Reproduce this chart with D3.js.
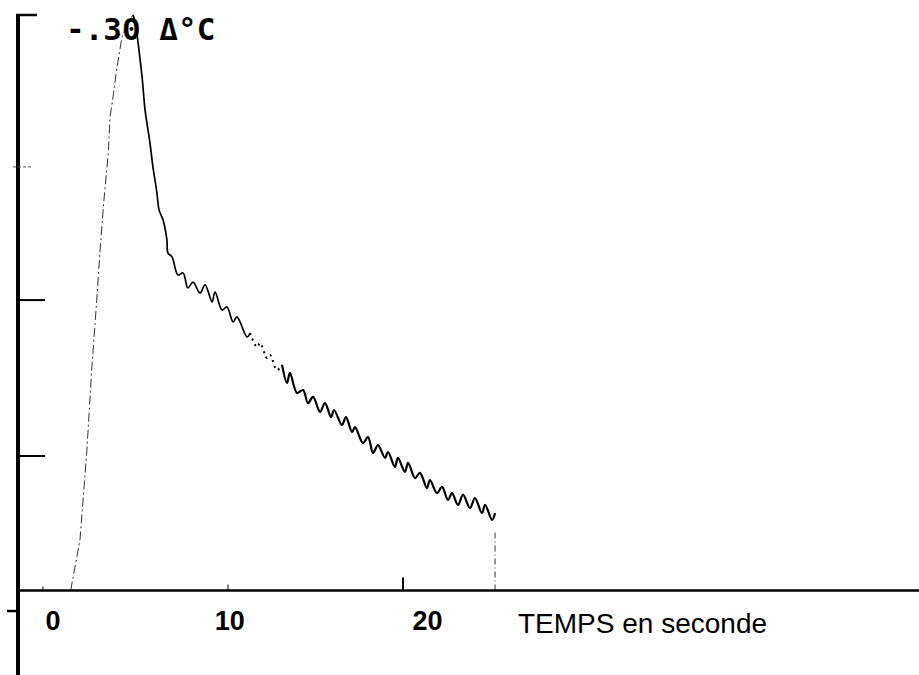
<!DOCTYPE html>
<html>
<head>
<meta charset="utf-8">
<script src="https://cdn.jsdelivr.net/npm/d3@7"></script>
<style>
  body { margin: 0; background: #fff; }
  svg { display: block; }
</style>
</head>
<body>
<svg id="chart" width="919" height="675"></svg>
<script>
// readings: time (s), temperature drop (deg C)
var riseT = [1.01, 1.54, 1.93, 2.21, 2.50, 2.69, 2.91, 3.16, 3.26, 3.43, 3.66, 3.94, 4.29, 4.57];
var riseV = [0, 0.0263, 0.0722, 0.1149, 0.1514, 0.1775, 0.2036, 0.2281, 0.2468, 0.2573, 0.2729, 0.2885, 0.2964, 0.3000];

var decayT = [4.57, 4.74, 4.83, 5.09, 5.26, 5.54, 5.71, 5.94, 6.06, 6.29, 6.51, 6.57, 6.80, 7.14, 7.43, 7.71, 8.00,
    8.40, 8.69, 9.09, 9.26, 9.66, 9.94, 10.29, 10.51, 11.09, 11.26];
var decayV = [0.3000, 0.2948, 0.2880, 0.2677, 0.2505, 0.2333, 0.2208, 0.2072, 0.1984, 0.1931, 0.1827, 0.1759, 0.1739,
    0.1645, 0.1655, 0.1577, 0.1608, 0.1551, 0.1593, 0.1504, 0.1556, 0.1462, 0.1478, 0.1400, 0.1426, 0.1322, 0.1342];

// faint stretch of the trace
var gapT = [11.26, 11.66, 11.83, 12.23, 12.40, 12.80, 13.09];
var gapV = [0.1342, 0.1269, 0.1290, 0.1212, 0.1228, 0.1149, 0.1176];

var tailT = [13.09, 13.37, 13.54, 13.94, 14.29, 14.57, 14.86, 15.26, 15.54, 15.89, 16.06, 16.51, 16.74, 17.09, 17.26,
    17.71, 18.00, 18.29, 18.57, 18.97, 19.14, 19.54, 19.71, 20.11, 20.29, 20.69, 20.97, 21.37, 21.54, 21.94, 22.23,
    22.57, 22.80, 23.14, 23.43, 23.83, 24.11, 24.51, 24.69, 25.09, 25.26];
var tailV = [0.1176, 0.1082, 0.1134, 0.1030, 0.1045, 0.0977, 0.1009, 0.0931, 0.0977, 0.0904, 0.0941, 0.0863, 0.0904,
    0.0826, 0.0852, 0.0769, 0.0800, 0.0717, 0.0758, 0.0691, 0.0722, 0.0644, 0.0691, 0.0618, 0.0665, 0.0586, 0.0613,
    0.0534, 0.0576, 0.0508, 0.0540, 0.0472, 0.0508, 0.0446, 0.0498, 0.0430, 0.0482, 0.0404, 0.0446, 0.0368, 0.0404];

var endT = 25.26, endV = 0.0305;

var xTicks = [-0.57, 10, 20];
var xLabels = ["0", "10", "20"];
var xLabelAt = [0, 10.1, 21.4];
var yTicks = [0.0701, 0.1514];
var yFaintTick = 0.2208;
var yLowTick = -0.0107;
var yTop = 0.30;
var topLabel = "-.30 \u0394\u00b0C";
var xTitle = "TEMPS en seconde";

var svg = d3.select("#chart"),
    width = +svg.attr("width"),
    height = +svg.attr("height");

var x = d3.scaleLinear().domain([0, 10]).range([53, 228]),
    y = d3.scaleLinear().domain([0, 0.30]).range([590.5, 15]);

svg.append("rect").attr("width", width).attr("height", height).attr("fill", "#fff");

var zip = (ts, vs) => ts.map((t, i) => ({ t: t, v: vs[i] }));
var line = d3.line().x(d => x(d.t)).y(d => y(d.v));
var wavy = d3.line().x(d => x(d.t)).y(d => y(d.v)).curve(d3.curveCatmullRom.alpha(0.5));

// rising part, faint dash-dot
svg.append("path")
    .datum(zip(riseT, riseV))
    .attr("fill", "none")
    .attr("stroke", "#333")
    .attr("stroke-width", 1)
    .attr("stroke-dasharray", "9,3,2,3")
    .attr("d", line);

svg.append("path")
    .datum(zip(decayT, decayV))
    .attr("fill", "none")
    .attr("stroke", "#000")
    .attr("stroke-width", 1.7)
    .attr("stroke-linejoin", "round")
    .attr("d", wavy);

svg.append("path")
    .datum(zip(gapT, gapV))
    .attr("fill", "none")
    .attr("stroke", "#000")
    .attr("stroke-width", 2)
    .attr("stroke-dasharray", "2,4")
    .attr("d", wavy);

svg.append("path")
    .datum(zip(tailT, tailV))
    .attr("fill", "none")
    .attr("stroke", "#000")
    .attr("stroke-width", 2.2)
    .attr("stroke-linejoin", "round")
    .attr("d", wavy);

// end of record marker
svg.append("line")
    .attr("x1", x(endT)).attr("x2", x(endT))
    .attr("y1", y(0)).attr("y2", y(endV))
    .attr("stroke", "#333")
    .attr("stroke-width", 1)
    .attr("stroke-dasharray", "6,3,1,3");

// axes
svg.append("line")
    .attr("x1", 18).attr("x2", width)
    .attr("y1", y(0)).attr("y2", y(0))
    .attr("stroke", "#000").attr("stroke-width", 2.5);

svg.append("line")
    .attr("x1", 18).attr("x2", 18)
    .attr("y1", y(yTop)).attr("y2", height)
    .attr("stroke", "#000").attr("stroke-width", 4);

svg.append("line")
    .attr("x1", 16).attr("x2", 37)
    .attr("y1", y(yTop)).attr("y2", y(yTop))
    .attr("stroke", "#000").attr("stroke-width", 2.5);

svg.selectAll(".ytick")
    .data(yTicks)
    .enter().append("line")
    .attr("class", "ytick")
    .attr("x1", 18).attr("x2", 45)
    .attr("y1", d => y(d)).attr("y2", d => y(d))
    .attr("stroke", "#000").attr("stroke-width", 2);

svg.append("line")
    .attr("x1", 13).attr("x2", 33)
    .attr("y1", y(yFaintTick)).attr("y2", y(yFaintTick))
    .attr("stroke", "#555").attr("stroke-width", 1)
    .attr("stroke-dasharray", "3,2");

svg.append("line")
    .attr("x1", 7).attr("x2", 18)
    .attr("y1", y(yLowTick)).attr("y2", y(yLowTick))
    .attr("stroke", "#000").attr("stroke-width", 2.5);

var tickLen = [4, 6, 13];
svg.selectAll(".xtick")
    .data(xTicks)
    .enter().append("line")
    .attr("class", "xtick")
    .attr("x1", d => x(d)).attr("x2", d => x(d))
    .attr("y1", y(0)).attr("y2", (d, i) => y(0) - tickLen[i])
    .attr("stroke", "#000").attr("stroke-width", (d, i) => i == 2 ? 2 : 1);

svg.selectAll(".xlabel")
    .data(xLabels)
    .enter().append("text")
    .attr("class", "xlabel")
    .attr("x", (d, i) => x(xLabelAt[i]))
    .attr("y", 630)
    .attr("text-anchor", "middle")
    .attr("font-family", "Liberation Sans, Arial, sans-serif")
    .attr("font-weight", "bold")
    .attr("font-size", 27)
    .text(d => d);

svg.append("text")
    .attr("x", 518)
    .attr("y", 633)
    .attr("font-family", "Liberation Sans, Arial, sans-serif")
    .attr("font-size", 28)
    .text(xTitle);

svg.append("text")
    .attr("x", 66)
    .attr("y", 40)
    .attr("font-family", "DejaVu Sans Mono, monospace")
    .attr("font-weight", "bold")
    .attr("font-size", 31)
    .attr("xml:space", "preserve")
    .style("white-space", "pre")
    .text(topLabel);
</script>
</body>
</html>
